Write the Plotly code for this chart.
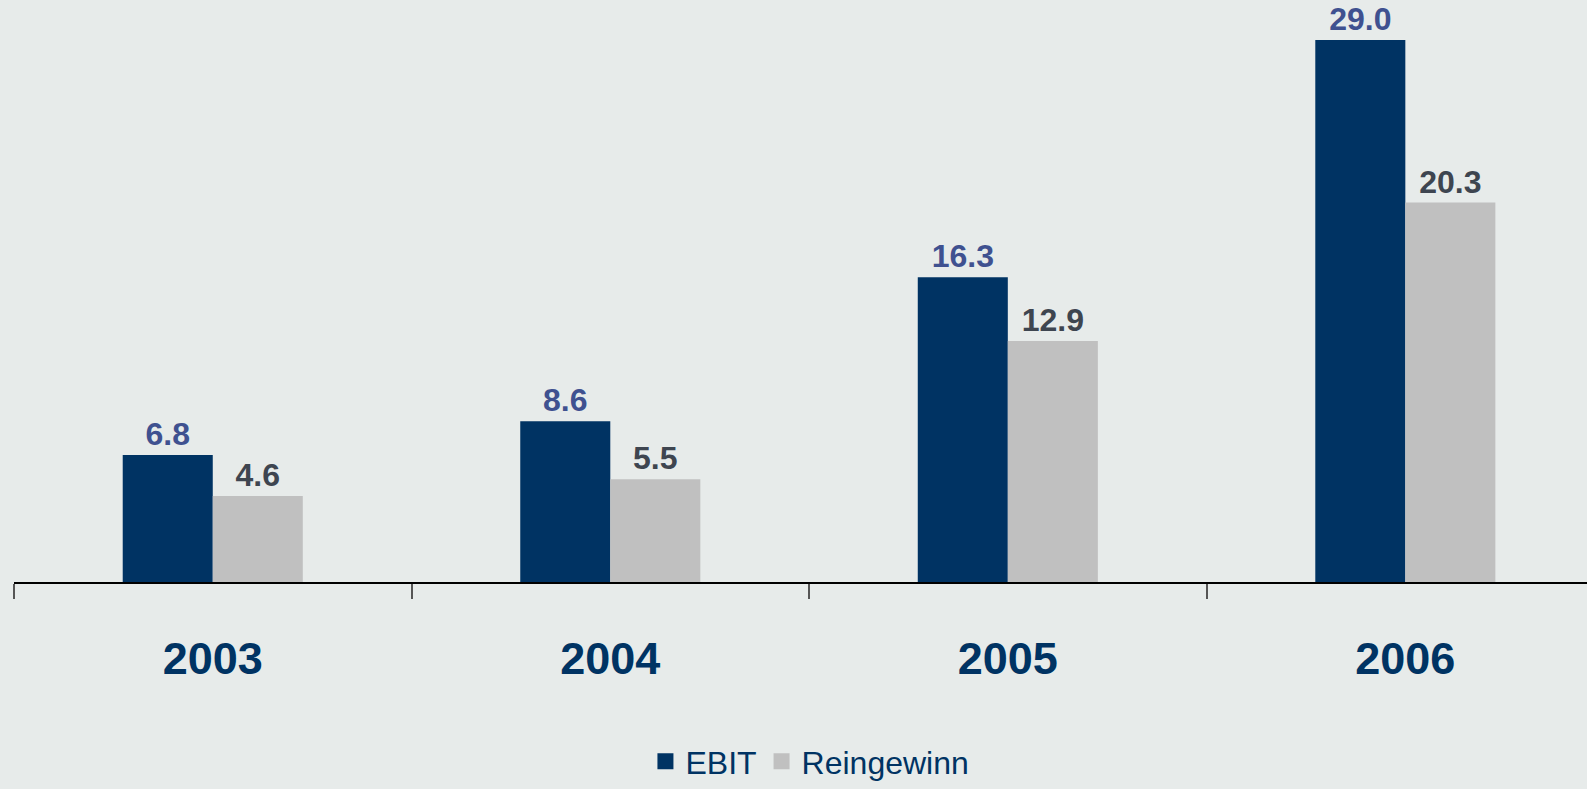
import plotly.graph_objects as go

years = ["2003", "2004", "2005", "2006"]
ebit = [6.8, 8.6, 16.3, 29.0]
reingewinn = [4.6, 5.5, 12.9, 20.3]
series_names = ["EBIT", "Reingewinn"]

BG = "#E7EBEA"
NAVY = "#003363"
GRAY = "#C0C0C0"

fig = go.Figure()
fig.add_trace(go.Bar(
    name=series_names[0], x=years, y=ebit, marker_color=NAVY, marker_line_width=0,
    texttemplate="%{y:.1f}", textposition="outside", cliponaxis=False, showlegend=False,
    textfont=dict(family="Arial", size=32, color="#3F5190", weight="bold"),
))
fig.add_trace(go.Bar(
    name=series_names[1], x=years, y=reingewinn, marker_color=GRAY, marker_line_width=0,
    texttemplate="%{y:.1f}", textposition="outside", cliponaxis=False, showlegend=False,
    textfont=dict(family="Arial", size=32, color="#3E4550", weight="bold"),
))
# legend entries with larger square symbols
for nm, col in zip(series_names, [NAVY, GRAY]):
    fig.add_trace(go.Scatter(
        name=nm, x=[None], y=[None], mode="markers",
        marker=dict(symbol="square", size=20, color=col, line_width=0),
    ))

fig.update_layout(
    width=1587, height=789,
    paper_bgcolor=BG, plot_bgcolor=BG,
    margin=dict(l=14, r=0, t=0, b=206),
    barmode="group", bargap=0.547, bargroupgap=0,
    font=dict(family="Arial", color=NAVY),
    legend=dict(
        orientation="h", x=0.506, xanchor="center", y=-0.308, yanchor="middle",
        font=dict(family="Arial", size=32, color=NAVY),
        bgcolor="rgba(0,0,0,0)", itemwidth=30, itemsizing="trace", traceorder="normal",
        borderwidth=0,
    ),
    xaxis=dict(
        type="category", range=[-0.5, 3.457],
        showline=True, linecolor="#000000", linewidth=1.5,
        ticks="outside", tickson="boundaries", ticklen=15, tickwidth=1.5, tickcolor="#555555",
        tickfont=dict(family="Arial", size=45, color=NAVY, weight="bold"),
        ticklabelstandoff=36, showgrid=False, zeroline=False,
    ),
    yaxis=dict(visible=False, range=[0, 31.14], showgrid=False, zeroline=False),
)

fig.write_html(
    "out.html",
    config={"displayModeBar": False},
    post_script="document.body.style.margin='0';document.body.style.background='" + BG + "';",
)
